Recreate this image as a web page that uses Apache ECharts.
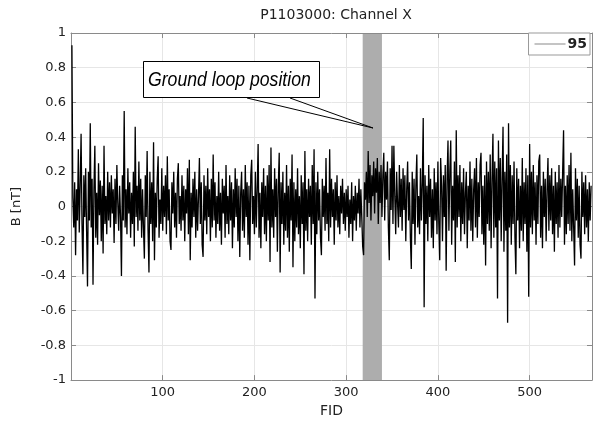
<!DOCTYPE html>
<html><head><meta charset="utf-8">
<script src="https://cdn.jsdelivr.net/npm/echarts@6/dist/echarts.min.js"></script>
<style>html,body{margin:0;padding:0;background:#fff}#c{width:594px;height:423px}</style>
</head><body><div id="c"></div>
<script>
const titleText = 'P1103000: Channel X';
const seriesName = '95';
const xName = 'FID';
const yName = 'B [nT]';
const annotationText = 'Ground loop position';
const loopBand = [318, 339];
const xRange = [0, 568];
const yRange = [-1, 1];

// B [nT] read per FID (1..567)
const bFid001 = [0.93,0.05,-0.12,0.14,-0.28,0.10,-0.08,0.33,-0.15,0.12,
0.42,-0.10,-0.39,0.18,-0.06,0.22,-0.14,-0.46,0.20,-0.08,
0.48,-0.12,0.16,-0.45,0.10,0.35,-0.18,0.08,-0.22,0.25,
-0.05,0.15,-0.20,0.12,-0.27,0.35,-0.10,0.06,-0.16,0.20,
-0.08,0.14,-0.12,0.18,-0.04,0.10,-0.21,0.16,-0.10,0.24,
0.02,-0.14,0.12,-0.06,-0.40,0.18,-0.08,0.55,-0.12,0.10,
-0.16,0.22,-0.04,0.14,-0.18,0.08,-0.10,0.20,-0.23,0.46,
-0.06,0.12,-0.14,0.26,-0.08,0.16,-0.18,0.10,-0.12,-0.30,
0.18,-0.06,0.32,-0.14,-0.38,0.20,-0.10,0.14,-0.20,0.37,
-0.31,0.08,-0.12,0.16,0.29,-0.18,0.04,-0.10,0.22,-0.14];
const bFid101 = [0.12,-0.06,0.18,-0.16,0.29,-0.08,0.10,-0.20,-0.25,0.14,
-0.04,0.20,-0.12,0.08,-0.18,0.16,0.25,-0.10,0.06,-0.14,
0.18,-0.08,0.12,-0.20,0.10,-0.04,0.22,-0.16,0.27,-0.31,
0.08,-0.12,0.16,-0.06,0.20,-0.18,0.10,-0.14,0.06,0.28,
-0.10,0.14,-0.22,-0.29,0.18,-0.08,0.12,-0.16,0.22,-0.06,
0.10,-0.20,0.16,-0.12,0.30,-0.08,0.14,-0.18,0.06,-0.10,
0.20,-0.14,0.08,-0.22,0.16,-0.04,0.12,-0.18,0.24,-0.10,
0.06,-0.16,0.18,-0.08,0.14,-0.24,0.10,-0.12,0.22,-0.06,
0.16,-0.20,0.12,-0.29,0.08,0.20,-0.14,0.10,-0.18,0.24,
-0.06,0.14,-0.22,0.12,-0.31,0.18,0.27,-0.10,0.06,-0.16];
const bFid201 = [0.20,-0.12,0.10,0.36,-0.18,0.08,-0.24,0.14,-0.06,0.22,
-0.16,0.12,-0.20,0.18,-0.08,0.24,-0.32,0.34,-0.12,0.10,
-0.18,0.22,-0.06,0.16,-0.26,0.12,0.31,-0.38,0.14,-0.10,
0.20,-0.22,0.08,-0.14,0.24,-0.18,0.12,-0.26,0.16,-0.08,
0.30,-0.35,0.14,-0.20,0.10,-0.12,0.22,-0.16,0.06,-0.24,
0.18,-0.10,0.14,-0.39,0.32,-0.14,0.10,-0.20,0.16,-0.06,
0.12,-0.22,0.24,-0.10,0.33,-0.53,0.14,-0.16,0.20,-0.08,
0.10,-0.18,-0.28,0.16,-0.06,0.12,-0.14,0.28,-0.10,0.08,
-0.20,0.33,-0.12,0.16,-0.06,0.10,-0.22,0.14,-0.08,0.18,
-0.12,0.06,-0.16,0.12,-0.04,0.16,-0.10,0.08,-0.14,0.10];
const bFid301 = [-0.06,0.12,-0.18,0.04,-0.10,0.14,-0.20,0.06,-0.08,0.12,
-0.14,0.08,-0.04,0.16,-0.12,0.10,-0.06,-0.23,-0.28,0.14,
0.04,0.20,-0.06,0.32,0.02,0.24,-0.08,0.18,0.06,0.26,
-0.04,0.22,0.08,0.28,-0.10,0.20,0.02,0.24,-0.06,0.18,
0.31,-0.08,0.20,0.04,0.26,-0.12,-0.31,0.22,-0.02,0.35,
-0.10,0.35,0.06,-0.16,0.20,0.02,-0.12,0.24,-0.06,0.16,
-0.14,0.22,-0.02,0.18,-0.20,0.10,0.26,-0.08,0.14,-0.18,
-0.36,0.20,-0.10,0.16,-0.22,0.12,0.30,-0.12,0.06,-0.16,
0.22,-0.08,0.14,0.51,-0.58,0.18,-0.10,0.12,-0.20,0.24,
-0.06,0.16,-0.18,0.10,-0.24,0.22,-0.08,0.14,-0.16,0.26];
const bFid401 = [-0.10,-0.31,0.28,0.12,-0.20,0.18,-0.06,0.24,-0.37,0.16,
0.38,-0.14,0.20,0.38,-0.22,0.12,-0.08,0.26,-0.32,0.44,
-0.12,0.18,-0.06,0.24,-0.20,0.14,-0.10,0.22,-0.16,0.08,
0.20,-0.24,0.12,-0.08,0.26,-0.14,0.16,-0.20,0.10,0.22,
-0.12,0.28,-0.18,0.14,-0.06,0.24,0.31,-0.16,0.12,-0.22,
0.18,-0.34,0.26,-0.10,0.20,-0.14,0.30,-0.24,0.16,0.42,
-0.18,0.26,-0.12,0.22,-0.53,0.38,-0.08,0.28,-0.20,0.16,
0.46,-0.26,0.20,-0.14,0.30,-0.67,0.48,-0.12,0.24,-0.22,
0.18,-0.10,0.26,-0.18,-0.39,0.22,-0.08,0.16,-0.24,0.12,
-0.14,0.28,-0.20,0.14,-0.10,0.22,-0.26,0.18,-0.52,0.36];
const bFid501 = [-0.12,0.20,-0.16,0.24,-0.08,0.14,-0.22,0.18,-0.10,0.26,
0.30,-0.18,0.12,-0.24,0.20,-0.06,0.16,-0.20,0.10,0.28,
-0.14,0.18,-0.08,0.22,-0.16,0.12,-0.26,0.20,-0.10,0.14,
-0.18,0.24,-0.12,0.16,-0.06,0.20,0.44,-0.22,0.12,-0.16,
0.18,-0.10,0.24,-0.14,0.31,-0.20,0.10,-0.12,-0.34,0.22,
-0.08,0.16,-0.18,0.12,-0.22,-0.30,0.20,-0.06,0.14,-0.16,
0.18,-0.12,0.10,-0.20,0.14,-0.08,0.12];

const bValues = [].concat(bFid001, bFid101, bFid201, bFid301, bFid401, bFid501);
const seriesData = bValues.map((v, i) => [i + 1, v]);

const axisFont = {fontFamily: 'DejaVu Sans', fontSize: 13, color: '#222'};
const frameColor = '#8a8a8a';

const chart = echarts.init(document.getElementById('c'), null, {renderer: 'canvas'});
chart.setOption({
  animation: false,
  backgroundColor: '#fff',
  title: {
    text: titleText, left: 331, top: 3, textAlign: 'center',
    textStyle: {fontFamily: 'DejaVu Sans', fontSize: 14, fontWeight: 'normal', color: '#222'}
  },
  grid: {left: 71, right: 2, top: 33, bottom: 32, containLabel: false},
  legend: {
    data: [{name: seriesName, icon: 'rect'}], right: 4, top: 33,
    backgroundColor: '#fff', borderColor: '#999', borderWidth: 1, borderRadius: 0,
    padding: [4, 3, 4, 6], itemWidth: 31, itemHeight: 1, itemGap: 2,
    itemStyle: {color: '#888'},
    textStyle: {fontFamily: 'DejaVu Sans', fontSize: 14, fontWeight: 'bold', color: '#222', padding: [0, 0, 0, -3], lineHeight: 14}
  },
  xAxis: [{
    type: 'value', min: xRange[0], max: xRange[1], interval: 100,
    name: xName, nameLocation: 'middle', nameGap: 21,
    nameTextStyle: {fontFamily: 'DejaVu Sans', fontSize: 14, color: '#222'},
    axisLine: {onZero: false, lineStyle: {color: frameColor}},
    axisTick: {inside: true, length: 5, lineStyle: {color: frameColor}},
    axisLabel: Object.assign({margin: 6, showMinLabel: false, showMaxLabel: false}, axisFont),
    splitLine: {show: true, lineStyle: {color: '#e6e6e6'}}
  }, {
    type: 'value', position: 'top', min: xRange[0], max: xRange[1], interval: 100,
    axisLine: {onZero: false, lineStyle: {color: frameColor}},
    axisTick: {inside: true, length: 5, lineStyle: {color: frameColor}},
    axisLabel: {show: false}, splitLine: {show: false}
  }],
  yAxis: [{
    type: 'value', min: yRange[0], max: yRange[1], interval: 0.2,
    name: yName, nameLocation: 'middle', nameGap: 48, nameRotate: 90,
    nameTextStyle: {fontFamily: 'DejaVu Sans', fontSize: 13, color: '#222'},
    axisLine: {show: true, onZero: false, lineStyle: {color: frameColor}},
    axisTick: {show: true, inside: true, length: 5, lineStyle: {color: frameColor}},
    axisLabel: Object.assign({margin: 5}, axisFont),
    splitLine: {show: true, lineStyle: {color: '#e6e6e6'}}
  }, {
    type: 'value', position: 'right', min: yRange[0], max: yRange[1], interval: 0.2,
    axisLine: {show: true, onZero: false, lineStyle: {color: frameColor}},
    axisTick: {show: true, inside: true, length: 5, lineStyle: {color: frameColor}},
    axisLabel: {show: false}, splitLine: {show: false}
  }],
  series: [{
    name: 'band', type: 'line', data: [], z: 0, zlevel: 0, silent: true,
    markArea: {
      silent: true, z: 0,
      itemStyle: {color: '#adadad', opacity: 1},
      data: [[{xAxis: loopBand[0]}, {xAxis: loopBand[1]}]]
    }
  }, {
    name: seriesName, type: 'line', data: seriesData, z: 5,
    symbol: 'none', showSymbol: false,
    lineStyle: {color: '#000', width: 1.3},
    itemStyle: {color: '#000'}
  }],
  graphic: [
    {type: 'polyline', z: 100, shape: {points: [[247, 98], [373, 128], [290, 98]]},
     style: {stroke: '#000', lineWidth: 1, fill: null}},
    {type: 'rect', z: 100, shape: {x: 143.5, y: 61.5, width: 176, height: 36},
     style: {fill: '#fff', stroke: '#000', lineWidth: 1}},
    {type: 'text', z: 101, x: 148, y: 80, scaleX: 0.84,
     style: {text: annotationText, font: 'italic 21px "Liberation Sans"', fill: '#000',
             textVerticalAlign: 'middle', verticalAlign: 'middle'}}
  ]
});
</script></body></html>
